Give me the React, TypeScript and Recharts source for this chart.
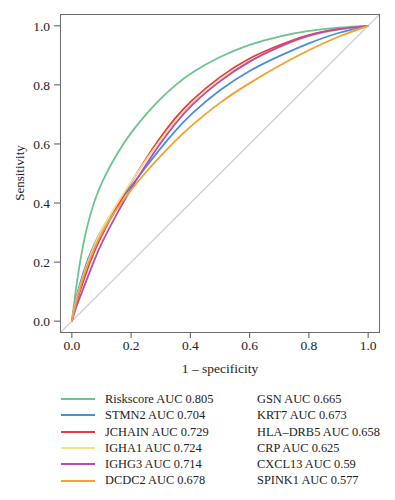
import { LineChart, Line, XAxis, YAxis, ReferenceLine } from 'recharts'

// false positive rate grid (1 - specificity)
const fpr = [0, 0.01, 0.025, 0.05, 0.075, 0.1, 0.15, 0.2, 0.25, 0.3, 0.35, 0.4, 0.5, 0.6, 0.7, 0.8, 0.9, 1]

// sensitivity at the fpr grid
const riskscore = [0, 0.08, 0.19, 0.32, 0.405, 0.47, 0.565, 0.64, 0.7, 0.755, 0.8, 0.84, 0.897, 0.938, 0.965, 0.984, 0.995, 1]
const stmn2 = [0, 0.06, 0.12, 0.2, 0.26, 0.31, 0.39, 0.457, 0.522, 0.587, 0.646, 0.7, 0.785, 0.85, 0.898, 0.942, 0.978, 1]
const jchain = [0, 0.045, 0.095, 0.17, 0.235, 0.29, 0.385, 0.47, 0.55, 0.625, 0.69, 0.745, 0.83, 0.893, 0.935, 0.972, 0.99, 1]
const igha1 = [0, 0.055, 0.11, 0.19, 0.255, 0.31, 0.395, 0.472, 0.546, 0.615, 0.68, 0.735, 0.82, 0.885, 0.927, 0.967, 0.988, 1]
const ighg3 = [0, 0.035, 0.075, 0.14, 0.205, 0.265, 0.36, 0.45, 0.53, 0.605, 0.67, 0.73, 0.815, 0.882, 0.93, 0.97, 0.99, 1]
const dcdc2 = [0, 0.05, 0.105, 0.185, 0.245, 0.3, 0.38, 0.445, 0.505, 0.56, 0.612, 0.66, 0.742, 0.807, 0.866, 0.918, 0.965, 1]

const ticks = [0, 0.2, 0.4, 0.6, 0.8, 1]
const range = [-0.04, 1.04]
const [lo, hi] = range

const drawn = [
  { key: 'riskscore', name: 'Riskscore', auc: '0.805', color: '#6cc48c', values: riskscore },
  { key: 'stmn2', name: 'STMN2', auc: '0.704', color: '#4a8fd8', values: stmn2 },
  { key: 'jchain', name: 'JCHAIN', auc: '0.729', color: '#ea3a3c', values: jchain },
  { key: 'igha1', name: 'IGHA1', auc: '0.724', color: '#f3df92', values: igha1 },
  { key: 'ighg3', name: 'IGHG3', auc: '0.714', color: '#b64bb2', values: ighg3 },
  { key: 'dcdc2', name: 'DCDC2', auc: '0.678', color: '#f6a02c', values: dcdc2 },
]

// listed in the legend only, no curve drawn
const otherNames = ['GSN', 'KRT7', 'HLA\u2013DRB5', 'CRP', 'CXCL13', 'SPINK1']
const otherAuc = ['0.665', '0.673', '0.658', '0.625', '0.59', '0.577']

const rocData = fpr.map((x, i) => {
  const row: Record<string, number> = { x }
  drawn.forEach((s) => {
    row[s.key] = s.values[i]
  })
  return row
})

const font = '"Liberation Serif", "DejaVu Serif", serif'
const tickStyle = { fontSize: 13.5, fill: '#222', fontFamily: font }

const CHART_W = 395
const CHART_H = 380
const margin = { top: 14, right: 15, left: 0, bottom: 0 }
const yAxisW = 60
const xAxisH = 47

export default function App() {
  return (
    <div style={{ position: 'absolute', left: 0, top: 0, width: 395, height: 500, background: '#fff', fontFamily: font }}>
      <LineChart width={CHART_W} height={CHART_H} data={rocData} margin={margin}>
        <XAxis
          type="number"
          dataKey="x"
          domain={range}
          ticks={ticks}
          tickFormatter={(v) => Number(v).toFixed(1)}
          allowDataOverflow
          axisLine={false}
          tickLine={{ stroke: '#555' }}
          tickSize={5}
          tick={tickStyle}
          height={xAxisH}
          label={{ value: '1 \u2013 specificity', position: 'insideBottom', offset: 7, style: { ...tickStyle } }}
        />
        <YAxis
          type="number"
          domain={range}
          ticks={ticks}
          tickFormatter={(v) => Number(v).toFixed(1)}
          allowDataOverflow
          axisLine={false}
          tickLine={{ stroke: '#555' }}
          tickSize={6}
          tickMargin={4}
          tick={tickStyle}
          width={yAxisW}
        />
        <ReferenceLine segment={[{ x: lo, y: lo }, { x: hi, y: hi }]} stroke="#cfcfcf" strokeWidth={1.2} ifOverflow="visible" />
        {drawn.map((s) => (
          <Line
            key={s.key}
            type="basis"
            dataKey={s.key}
            stroke={s.color}
            strokeWidth={1.8}
            dot={false}
            isAnimationActive={false}
          />
        ))}
      </LineChart>
      {/* plot frame (R box) */}
      <div
        style={{
          position: 'absolute',
          left: margin.left + yAxisW,
          top: margin.top,
          width: CHART_W - margin.left - margin.right - yAxisW,
          height: CHART_H - margin.top - margin.bottom - xAxisH,
          border: '1.2px solid #6b6b6b',
          boxSizing: 'border-box',
          pointerEvents: 'none',
        }}
      />
      <div
        style={{
          position: 'absolute',
          left: 20,
          top: 173,
          transform: 'translate(-50%, -50%) rotate(-90deg)',
          fontSize: 13,
          color: '#222',
          whiteSpace: 'nowrap',
        }}
      >
        Sensitivity
      </div>
      <div style={{ position: 'absolute', left: 61, top: 391, fontSize: 12.4, color: '#222', lineHeight: '16.3px' }}>
        {drawn.map((s) => (
          <div key={s.key} style={{ display: 'flex', alignItems: 'center', height: 16.3 }}>
            <span style={{ display: 'inline-block', width: 34, height: 2, background: s.color, marginRight: 10 }} />
            <span style={{ whiteSpace: 'nowrap' }}>{`${s.name} AUC ${s.auc}`}</span>
          </div>
        ))}
      </div>
      <div style={{ position: 'absolute', left: 257, top: 391, fontSize: 12.4, color: '#222', lineHeight: '16.3px' }}>
        {otherNames.map((n, i) => (
          <div key={n} style={{ height: 16.3, whiteSpace: 'nowrap' }}>{`${n} AUC ${otherAuc[i]}`}</div>
        ))}
      </div>
    </div>
  )
}
